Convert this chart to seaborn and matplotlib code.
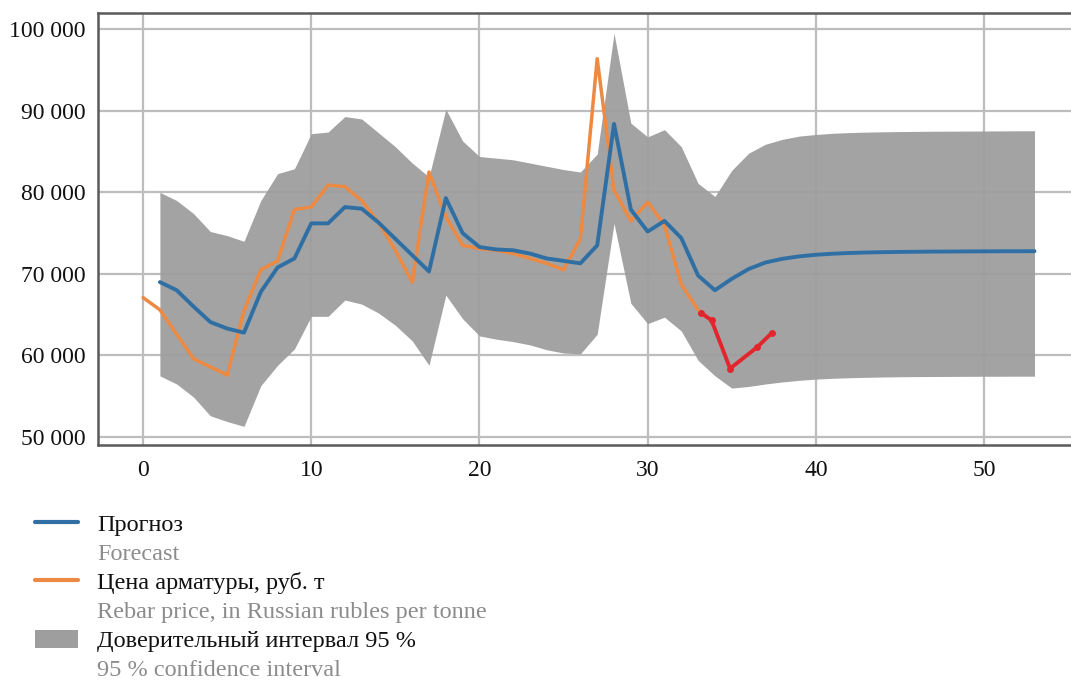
import numpy as np
import pandas as pd
import matplotlib
matplotlib.use("Agg")
import matplotlib.pyplot as plt
import seaborn as sns
from matplotlib.lines import Line2D
from matplotlib.patches import Patch
from matplotlib.ticker import FuncFormatter

# ---------------- data ----------------
forecast_x = list(range(1, 54))
forecast = [69000, 68000, 66000, 64100, 63300, 62800, 67800, 70800, 71900, 76200,
            76200, 78200, 78000, 76300, 74300, 72300, 70300, 79300, 75000, 73300,
            73000, 72900, 72500, 71900, 71600, 71300, 73500, 88400, 77900, 75200,
            76500, 74400, 69800, 68000, 69400, 70600, 71400, 71850, 72150, 72350,
            72480, 72570, 72630, 72670, 72700, 72720, 72740, 72750, 72760, 72770,
            72780, 72780, 72790]
ci_upper = [80000, 79000, 77400, 75200, 74700, 74000, 79000, 82300, 82900, 87200,
            87400, 89300, 89000, 87300, 85600, 83600, 81900, 90200, 86300, 84400,
            84200, 84000, 83600, 83200, 82800, 82500, 84700, 99500, 88500, 86800,
            87700, 85600, 81100, 79500, 82700, 84800, 85900, 86500, 86900, 87100,
            87250, 87330, 87390, 87430, 87460, 87480, 87500, 87510, 87520, 87530,
            87540, 87550, 87560]
ci_lower = [57500, 56500, 54900, 52600, 51900, 51300, 56300, 58800, 60800, 64800,
            64800, 66800, 66300, 65200, 63700, 61800, 58800, 67400, 64500, 62400,
            62000, 61700, 61300, 60700, 60300, 60200, 62600, 76200, 66400, 63900,
            64700, 63000, 59400, 57500, 56000, 56200, 56500, 56750, 56950, 57100,
            57200, 57270, 57320, 57360, 57390, 57410, 57420, 57430, 57440, 57450,
            57450, 57460, 57460]

price_x = list(range(0, 34))
price = [67100, 65600, 62600, 59600, 58600, 57600, 65500, 70500, 71600, 77900,
         78200, 80900, 80700, 79000, 76300, 72900, 69000, 82500, 77000, 73500,
         73100, 72900, 72500, 71900, 71300, 70500, 74300, 96400, 80300, 76500,
         78800, 76000, 68700, 65600]

actual_x = [33.2, 33.8, 34.9, 36.5, 37.4]
actual = [65200, 64300, 58400, 61000, 62800]

x_ticks = [0, 10, 20, 30, 40, 50]
y_ticks = [50000, 60000, 70000, 80000, 90000, 100000]

labels_ru = ["Прогноз", "Цена арматуры, руб. т", "Доверительный интервал 95 %"]
labels_en = ["Forecast", "Rebar price, in Russian rubles per tonne", "95 % confidence interval"]

# ---------------- style ----------------
sns.set_style("white")
plt.rcParams["font.family"] = ["Liberation Serif", "DejaVu Serif"]

BLUE = "#2f6fa3"
ORANGE = "#ec8a43"
RED = "#e3262d"
FILL = "#9e9e9e"

fig = plt.figure(figsize=(10.71, 6.82), dpi=100)
ax = fig.add_axes([98 / 1071, 1 - 445 / 682, 1 - 98 / 1071, (445 - 13) / 682])

fc_df = pd.DataFrame({"x": forecast_x, "y": forecast, "lo": ci_lower, "hi": ci_upper})
pr_df = pd.DataFrame({"x": price_x, "y": price})
ac_df = pd.DataFrame({"x": actual_x, "y": actual})

ax.fill_between(fc_df["x"], fc_df["lo"], fc_df["hi"], color=FILL, alpha=0.95,
                linewidth=0, zorder=2)
sns.lineplot(data=fc_df, x="x", y="y", ax=ax, color=BLUE, linewidth=2.8, zorder=4)
sns.lineplot(data=pr_df, x="x", y="y", ax=ax, color=ORANGE, linewidth=2.5, zorder=3)
sns.lineplot(data=ac_df, x="x", y="y", ax=ax, color=RED, linewidth=2.8, marker="o",
             markersize=5, markeredgewidth=0, zorder=5)

ax.set_xlim(-2.68, 55.17)
ax.set_ylim(49020, 102000)
ax.set_xticks(x_ticks)
ax.set_yticks(y_ticks)
ax.yaxis.set_major_formatter(FuncFormatter(lambda v, p: f"{v:,.0f}".replace(",", " ")))
ax.set_xlabel("")
ax.set_ylabel("")
ax.grid(True, color="#bdbdbd", linewidth=1.6, zorder=1)
ax.set_axisbelow(True)
for s in ["left", "top", "bottom"]:
    ax.spines[s].set_color("#5a5a5a")
    ax.spines[s].set_linewidth(1.8)
ax.spines["right"].set_visible(False)
ax.tick_params(axis="both", which="major", length=4, width=1.2, color="#444444",
               labelsize=17, labelcolor="#111111", pad=5, direction="out")
ax.tick_params(axis="x", pad=7)

# ---------------- legend ----------------
invis = Line2D([], [], linestyle="none", marker=None)
handles = [Line2D([], [], color=BLUE, linewidth=3), invis,
           Line2D([], [], color=ORANGE, linewidth=3), invis,
           Patch(facecolor=FILL, edgecolor="none"), invis]
labels = [labels_ru[0], labels_en[0], labels_ru[1], labels_en[1], labels_ru[2], labels_en[2]]
leg = fig.legend(handles, labels, loc="upper left", bbox_to_anchor=(35 / 1071, 1 - 513 / 682),
                 frameon=False, fontsize=17.5, handlelength=1.77, handletextpad=0.78,
                 labelspacing=0.27, borderpad=0, borderaxespad=0, handleheight=0.78)
for i, t in enumerate(leg.get_texts()):
    t.set_color("#111111" if i % 2 == 0 else "#8c8c8c")

fig.savefig("out.png", dpi=100)
